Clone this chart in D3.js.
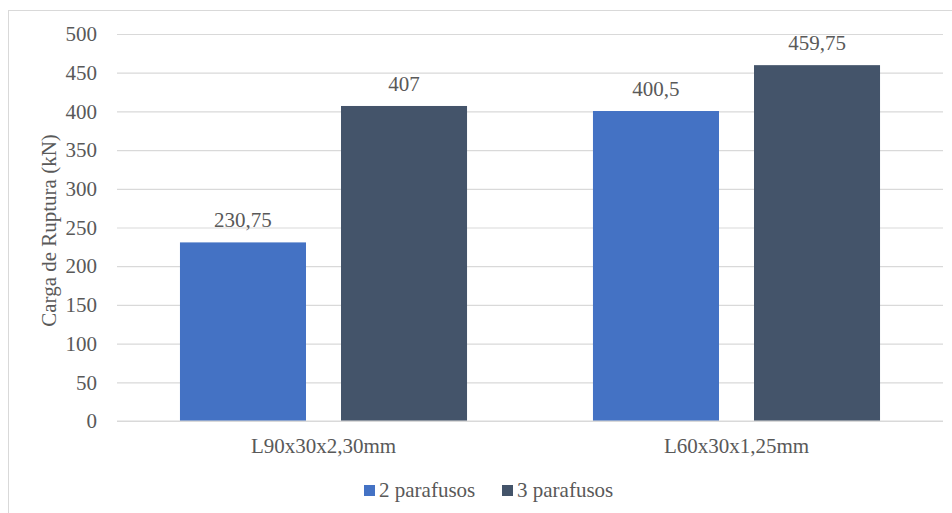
<!DOCTYPE html>
<html><head><meta charset="utf-8">
<script src="https://cdn.jsdelivr.net/npm/d3@7"></script>
<style>body{margin:0;background:#fff}svg{display:block}</style>
</head><body>
<script>
const categories = ["L90x30x2,30mm", "L60x30x1,25mm"];
const seriesNames = ["2 parafusos", "3 parafusos"];
const values2 = [230.75, 400.5];
const values3 = [407, 459.75];
const yTicks = [0, 50, 100, 150, 200, 250, 300, 350, 400, 450, 500];
const colors = ["#4472C4", "#44546A"];
const yTitle = "Carga de Ruptura (kN)";

const FONT = '"Liberation Serif","Times New Roman",serif';
const FS = 21, TXT = "#595959";
const W = 952, H = 513;
const svg = d3.select("body").append("svg").attr("width", W).attr("height", H);
svg.append("rect").attr("x", 8.5).attr("y", 10.5).attr("width", W).attr("height", H)
  .attr("fill", "#fff").attr("stroke", "#d9d9d9");

const pL = 117, pR = 943, pT = 34, pB = 421;
const y = d3.scaleLinear().domain([0, 500]).range([pB, pT]);
const x0 = d3.scaleBand().domain(categories).range([pL, pR]).paddingInner(0).paddingOuter(0);
const x1 = d3.scaleBand().domain(seriesNames).range([0, x0.bandwidth()]).paddingInner(0.2174).paddingOuter(0.391);
const fmt = d3.formatLocale({decimal: ",", thousands: ".", grouping: [3], currency: ["", ""]}).format("~f");

function styleText(sel) {
  return sel.attr("font-size", FS).attr("fill", TXT).style("font-family", FONT).style("font-size", FS + "px");
}

// gridlines + y tick labels
const yAxis = d3.axisLeft(y).tickValues(yTicks).tickSize(-(pR - pL)).tickPadding(20);
const ga = svg.append("g").attr("transform", `translate(${pL},0)`).call(yAxis);
ga.select(".domain").remove();
ga.selectAll(".tick line").attr("stroke", "#d9d9d9").attr("stroke-width", 1.2);
styleText(ga.selectAll(".tick text"));

// bars
const data = categories.map((c, i) => ({cat: c, vals: [values2[i], values3[i]]}));
const groups = svg.append("g").selectAll("g").data(data).join("g")
  .attr("transform", d => `translate(${x0(d.cat)},0)`);
groups.selectAll("rect").data(d => d.vals.map((v, j) => ({s: seriesNames[j], v, j}))).join("rect")
  .attr("x", d => x1(d.s)).attr("width", x1.bandwidth())
  .attr("y", d => y(d.v)).attr("height", d => y(0) - y(d.v))
  .attr("fill", d => colors[d.j]);
styleText(groups.selectAll("text.val").data(d => d.vals.map((v, j) => ({s: seriesNames[j], v, j}))).join("text")
  .attr("class", "val")
  .attr("x", d => x1(d.s) + x1.bandwidth() / 2).attr("y", d => y(d.v) - 15)
  .attr("text-anchor", "middle").text(d => fmt(d.v)));

// x axis labels
const xAxis = d3.axisBottom(x0).tickSize(0).tickPadding(17);
const gx = svg.append("g").attr("transform", `translate(0,${pB})`).call(xAxis);
gx.select(".domain").remove();
styleText(gx.selectAll(".tick text"));

// baseline gridline on top
svg.append("line").attr("x1", pL).attr("x2", pR).attr("y1", y(0)).attr("y2", y(0))
  .attr("stroke", "#d9d9d9").attr("stroke-width", 1.2);

// y title
styleText(svg.append("text").attr("transform", `translate(56,${(pT + pB) / 2 + 3}) rotate(-90)`)
  .attr("text-anchor", "middle").text(yTitle));

// legend
const legX = [364, 502];
const leg = svg.append("g").selectAll("g").data(seriesNames).join("g")
  .attr("transform", (d, i) => `translate(${legX[i]},485)`);
leg.append("rect").attr("width", 11).attr("height", 11).attr("fill", (d, i) => colors[i]);
styleText(leg.append("text").attr("x", 15).attr("y", 12).text(d => d));
</script>
</body></html>
